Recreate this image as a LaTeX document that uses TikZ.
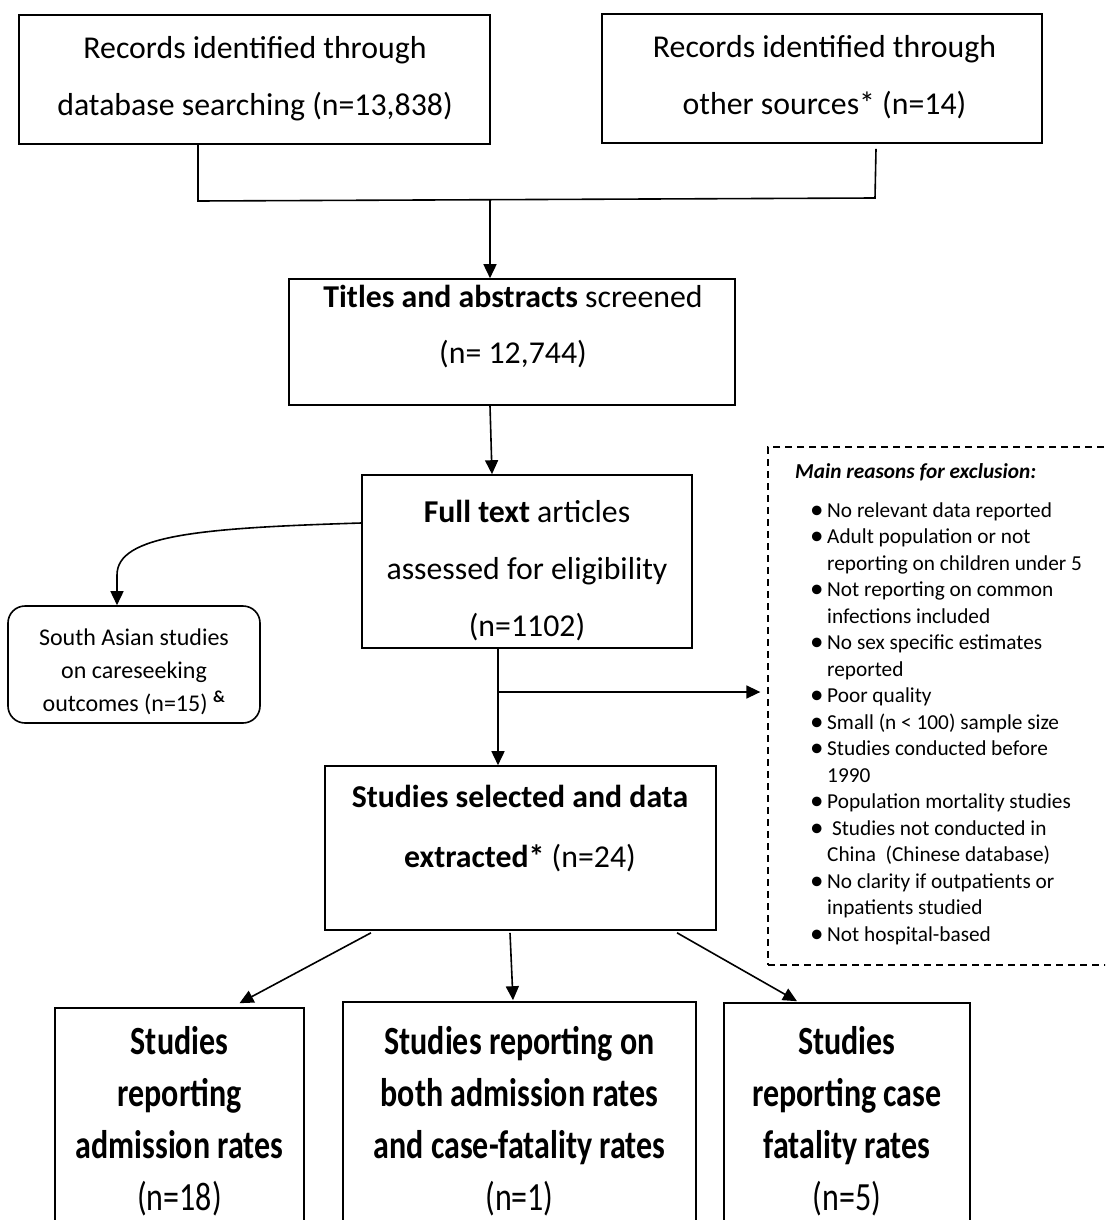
\documentclass[tikz,border=0pt]{standalone}
\usepackage{fontspec}
\setmainfont{Carlito}
\newfontfamily\narrowfamily{Carlito}[FakeStretch=0.8]
\usetikzlibrary{arrows.meta,calc}

\begin{document}
\begin{tikzpicture}[x=1pt,y=-1pt,
  box/.style={draw, line width=1.6pt, inner sep=0pt},
  rbox/.style={box, rounded corners=17pt},
  dbox/.style={draw, line width=1.3pt, dash pattern=on 7pt off 5pt, inner sep=0pt},
  txt/.style={inner sep=0pt, align=center, font=\fontsize{31.8}{57}\selectfont},
  smalltxt/.style={inner sep=0pt, align=center, font=\fontsize{24}{33}\selectfont},
  listtxt/.style={inner sep=0pt, align=left, font=\fontsize{21.3}{26.5}\selectfont},
  bigtxt/.style={inner sep=0pt, align=center, font=\narrowfamily\bfseries\fontsize{40}{52}\selectfont},
  link/.style={line width=1.6pt},
  arr/.style={link, -{Triangle[length=14pt,width=13pt]}},
]
\useasboundingbox (0,0) rectangle (1105,1220);
\fill[white] (0,0) rectangle (1105,1220);
\clip (0,0) rectangle (1105,1220);

% top row: record sources
\node[box, minimum width=471pt, minimum height=129pt] (A) at (254.5,79.5) {};
\node[txt] (At) at (255,78.5) {Records identified through\\database searching (n=13,838)};
\node[box, minimum width=440pt, minimum height=129pt] (B) at (822,78.5) {};
\node[txt] (Bt) at (824.5,77) {Records identified through\\other sources* (n=14)};

% screening
\node[box, minimum width=446pt, minimum height=126pt] (C) at (512,342) {};
\node[txt] (Ct) at (513,326.5) {\textbf{Titles and abstracts} screened\\[-1pt](n= 12,744)};

% eligibility
\node[box, minimum width=330pt, minimum height=173pt] (D) at (527,561.5) {};
\node[txt] (Dt) at (527,571) {\textbf{Full text} articles\\assessed for eligibility\\(n=1102)};

% side branch
\node[rbox, minimum width=252pt, minimum height=117pt] (E) at (134,664.5) {};
\node[smalltxt] (Et) at (134,672) {South Asian studies\\on careseeking\\outcomes (n=15) \textsuperscript{\bfseries\&}};

% exclusion reasons
\node[dbox, minimum width=347pt, minimum height=518pt] (X) at (941.5,706) {};
\node[listtxt, anchor=west, font=\fontsize{21.3}{26.5}\selectfont\bfseries\itshape] (Xh) at (795,472) {Main reasons for exclusion:};
\newcommand{\bul}{\makebox[17pt][l]{\raisebox{-1.3pt}{\fontsize{27}{27}\selectfont\textbullet}}}
\newcommand{\ind}{\hspace*{17pt}}
\node[listtxt, anchor=north west] (Xl) at (810,502) {%
\bul No relevant data reported\\
\bul Adult population or not\\
\ind reporting on children under 5\\
\bul Not reporting on common\\
\ind infections included\\
\bul No sex specific estimates\\
\ind reported\\
\bul Poor quality\\
\bul Small (n < 100) sample size\\
\bul Studies conducted before\\
\ind 1990\\
\bul Population mortality studies\\
\bul\ Studies not conducted in\\
\ind China\ \ (Chinese database)\\
\bul No clarity if outpatients or\\
\ind inpatients studied\\
\bul Not hospital-based};

% included studies
\node[box, minimum width=391pt, minimum height=164pt] (F) at (520.5,848) {};
\node[txt, font=\fontsize{31.8}{60}\selectfont] (Ft) at (520,829) {\textbf{Studies selected and data}\\\textbf{extracted*} (n=24)};

% outcome groups
\node[box, minimum width=249pt, minimum height=260pt] (G) at (179.5,1138) {};
\node[bigtxt] (Gt) at (179.5,1121) {Studies\\reporting\\admission rates\\{\mdseries (n=18)}};
\node[box, minimum width=353pt, minimum height=260pt] (H) at (519.5,1132) {};
\node[bigtxt] (Ht) at (519.5,1121) {Studies reporting on\\both admission rates\\and case-fatality rates\\{\mdseries (n=1)}};
\node[box, minimum width=246pt, minimum height=260pt] (I) at (847,1133) {};
\node[bigtxt] (It) at (847,1121) {Studies\\reporting case\\fatality rates\\{\mdseries (n=5)}};

% connectors
\coordinate (jl) at (198,201);
\coordinate (jr) at (875,198);
\coordinate (jm) at (490,200);
\draw[link] (A.south -| jl) -- (jl) -- (jr) -- ($(B.south -| jr)+(1,5)$);
\draw[arr] (jm) -- (C.north -| jm);
\draw[arr] ($(C.south)+(-22,0)$) -- ($(D.north)+(-35,0)$);
\draw[arr] ($(D.west)+(0,-38.5)$) .. controls (200,528) and (117,535) .. (117,575) -- ($(E.north)+(-17,0)$);
\coordinate (br) at (498,692);
\draw[arr] ($(D.south)+(-29,0)$) -- ($(F.north)+(-22.5,0)$);
\draw[arr, shorten >=7pt] (br) -- (X.west |- br);
\draw[arr] ($(F.south)+(-149.5,2)$) -- ($(G.north)+(60,-4)$);
\draw[arr] ($(F.south)+(-10.5,2)$) -- ($(H.north)+(-6.5,-1)$);
\draw[arr] ($(F.south)+(156.5,2)$) -- ($(I.north)+(-50,-1)$);
\end{tikzpicture}
\end{document}
